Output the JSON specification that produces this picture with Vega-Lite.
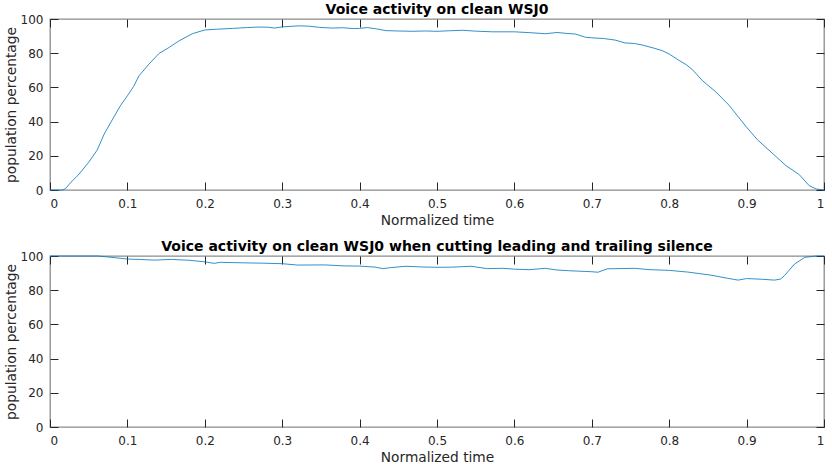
{
  "$schema": "https://vega.github.io/schema/vega-lite/v6.json",
  "padding": {"left": 3, "top": 2, "right": 4, "bottom": 0},
  "bounds": "flush",
  "spacing": 66,
  "datasets": {
    "full": [
      {"t": 0, "v": 0}, {"t": 0.016, "v": 0}, {"t": 0.02, "v": 0.8}, {"t": 0.027, "v": 4.5},
      {"t": 0.037, "v": 9}, {"t": 0.05, "v": 16.2}, {"t": 0.061, "v": 23.4}, {"t": 0.07, "v": 32.7},
      {"t": 0.081, "v": 41.5}, {"t": 0.091, "v": 49.3}, {"t": 0.1, "v": 55.1}, {"t": 0.108, "v": 60.5},
      {"t": 0.115, "v": 66.8}, {"t": 0.128, "v": 73.7}, {"t": 0.141, "v": 79.9}, {"t": 0.154, "v": 83.4},
      {"t": 0.167, "v": 87.3}, {"t": 0.184, "v": 91.4}, {"t": 0.2, "v": 93.6}, {"t": 0.215, "v": 94},
      {"t": 0.236, "v": 94.5}, {"t": 0.255, "v": 95}, {"t": 0.27, "v": 95.3}, {"t": 0.282, "v": 95.2},
      {"t": 0.29, "v": 94.7}, {"t": 0.3, "v": 95.4}, {"t": 0.322, "v": 96}, {"t": 0.335, "v": 95.8},
      {"t": 0.348, "v": 95.1}, {"t": 0.365, "v": 94.7}, {"t": 0.378, "v": 94.9}, {"t": 0.392, "v": 94.4},
      {"t": 0.4, "v": 94.5}, {"t": 0.41, "v": 95}, {"t": 0.422, "v": 94.2}, {"t": 0.434, "v": 93.2},
      {"t": 0.45, "v": 93}, {"t": 0.468, "v": 92.8}, {"t": 0.485, "v": 93}, {"t": 0.5, "v": 92.8},
      {"t": 0.515, "v": 93.1}, {"t": 0.533, "v": 93.4}, {"t": 0.55, "v": 92.9}, {"t": 0.572, "v": 92.5},
      {"t": 0.6, "v": 92.5}, {"t": 0.62, "v": 92}, {"t": 0.64, "v": 91.4}, {"t": 0.655, "v": 92.1},
      {"t": 0.667, "v": 91.6}, {"t": 0.679, "v": 91.2}, {"t": 0.692, "v": 89.3}, {"t": 0.7, "v": 89},
      {"t": 0.715, "v": 88.6}, {"t": 0.73, "v": 87.7}, {"t": 0.743, "v": 86}, {"t": 0.755, "v": 85.7},
      {"t": 0.765, "v": 84.8}, {"t": 0.78, "v": 83}, {"t": 0.791, "v": 81.5}, {"t": 0.8, "v": 79.5},
      {"t": 0.812, "v": 76}, {"t": 0.822, "v": 73.3}, {"t": 0.83, "v": 70.4}, {"t": 0.843, "v": 63.9},
      {"t": 0.86, "v": 57.5}, {"t": 0.877, "v": 49.7}, {"t": 0.888, "v": 43.5}, {"t": 0.9, "v": 36.7},
      {"t": 0.914, "v": 29.4}, {"t": 0.933, "v": 21.6}, {"t": 0.951, "v": 14.2}, {"t": 0.968, "v": 9},
      {"t": 0.981, "v": 2.5}, {"t": 0.99, "v": 0.6}, {"t": 1, "v": 0}
    ],
    "cut": [
      {"t": 0, "v": 100}, {"t": 0.062, "v": 100}, {"t": 0.08, "v": 99.2}, {"t": 0.1, "v": 98.2},
      {"t": 0.115, "v": 98}, {"t": 0.135, "v": 97.6}, {"t": 0.157, "v": 98}, {"t": 0.18, "v": 97.5},
      {"t": 0.2, "v": 96.6}, {"t": 0.212, "v": 95.7}, {"t": 0.22, "v": 96.3}, {"t": 0.25, "v": 96},
      {"t": 0.275, "v": 95.8}, {"t": 0.3, "v": 95.5}, {"t": 0.32, "v": 94.7}, {"t": 0.355, "v": 94.8},
      {"t": 0.38, "v": 94.2}, {"t": 0.4, "v": 94.1}, {"t": 0.42, "v": 93.5}, {"t": 0.43, "v": 92.6},
      {"t": 0.44, "v": 93.2}, {"t": 0.46, "v": 94}, {"t": 0.48, "v": 93.6}, {"t": 0.5, "v": 93.4},
      {"t": 0.52, "v": 93.5}, {"t": 0.544, "v": 94}, {"t": 0.565, "v": 92.6}, {"t": 0.585, "v": 92.8},
      {"t": 0.6, "v": 92.3}, {"t": 0.62, "v": 92}, {"t": 0.64, "v": 92.8}, {"t": 0.655, "v": 91.8},
      {"t": 0.67, "v": 91.4}, {"t": 0.69, "v": 91}, {"t": 0.7, "v": 90.8}, {"t": 0.708, "v": 90.5},
      {"t": 0.72, "v": 92.5}, {"t": 0.755, "v": 92.8}, {"t": 0.775, "v": 92}, {"t": 0.8, "v": 91.6},
      {"t": 0.824, "v": 90.6}, {"t": 0.854, "v": 88.8}, {"t": 0.875, "v": 87}, {"t": 0.889, "v": 85.9},
      {"t": 0.9, "v": 86.8}, {"t": 0.92, "v": 86.4}, {"t": 0.936, "v": 85.9}, {"t": 0.944, "v": 86.5},
      {"t": 0.949, "v": 88.6}, {"t": 0.962, "v": 95.3}, {"t": 0.975, "v": 99.2}, {"t": 0.99, "v": 100},
      {"t": 1, "v": 100}
    ]
  },
  "vconcat": [
    {
      "title": "Voice activity on clean WSJ0",
      "width": 774,
      "height": 171,
      "data": {"name": "full"},
      "layer": [
        {
          "mark": {"type": "line", "color": "#0072BD", "strokeWidth": 0.8},
          "encoding": {
            "x": {"field": "t", "type": "quantitative", "scale": {"domain": [0, 1], "nice": false},
                  "axis": {"orient": "bottom", "title": "Normalized time", "labelPadding": 16, "titlePadding": 4, "values": [0, 0.1, 0.2, 0.3, 0.4, 0.5, 0.6, 0.7, 0.8, 0.9, 1], "format": "~g"}},
            "y": {"field": "v", "type": "quantitative", "scale": {"domain": [0, 100], "nice": false},
                  "axis": {"orient": "left", "title": "population percentage", "labelPadding": 15, "values": [0, 20, 40, 60, 80, 100]}}
          }
        },
        {
          "mark": {"type": "line", "opacity": 0},
          "encoding": {
            "x": {"field": "t", "type": "quantitative", "scale": {"domain": [0, 1], "nice": false},
                  "axis": {"orient": "top", "title": null, "labels": false, "values": [0, 0.1, 0.2, 0.3, 0.4, 0.5, 0.6, 0.7, 0.8, 0.9, 1]}},
            "y": {"field": "v", "type": "quantitative", "scale": {"domain": [0, 100], "nice": false},
                  "axis": {"orient": "right", "title": null, "labels": false, "values": [0, 20, 40, 60, 80, 100]}}
          }
        }
      ],
      "resolve": {"axis": {"x": "independent", "y": "independent"}}
    },
    {
      "title": "Voice activity on clean WSJ0 when cutting leading and trailing silence",
      "width": 774,
      "height": 171,
      "data": {"name": "cut"},
      "layer": [
        {
          "mark": {"type": "line", "color": "#0072BD", "strokeWidth": 0.8},
          "encoding": {
            "x": {"field": "t", "type": "quantitative", "scale": {"domain": [0, 1], "nice": false},
                  "axis": {"orient": "bottom", "title": "Normalized time", "labelPadding": 16, "titlePadding": 4, "values": [0, 0.1, 0.2, 0.3, 0.4, 0.5, 0.6, 0.7, 0.8, 0.9, 1], "format": "~g"}},
            "y": {"field": "v", "type": "quantitative", "scale": {"domain": [0, 100], "nice": false},
                  "axis": {"orient": "left", "title": "population percentage", "labelPadding": 15, "values": [0, 20, 40, 60, 80, 100]}}
          }
        },
        {
          "mark": {"type": "line", "opacity": 0},
          "encoding": {
            "x": {"field": "t", "type": "quantitative", "scale": {"domain": [0, 1], "nice": false},
                  "axis": {"orient": "top", "title": null, "labels": false, "values": [0, 0.1, 0.2, 0.3, 0.4, 0.5, 0.6, 0.7, 0.8, 0.9, 1]}},
            "y": {"field": "v", "type": "quantitative", "scale": {"domain": [0, 100], "nice": false},
                  "axis": {"orient": "right", "title": null, "labels": false, "values": [0, 20, 40, 60, 80, 100]}}
          }
        }
      ],
      "resolve": {"axis": {"x": "independent", "y": "independent"}}
    }
  ],
  "config": {
    "font": "DejaVu Sans",
    "view": {"stroke": "#8c8c8c", "strokeWidth": 1.3},
    "axis": {
      "domain": false,
      "grid": false,
      "tickColor": "#262626",
      "tickSize": -8,
      "tickWidth": 1,
      "labelColor": "#262626",
      "labelFontSize": 12,
      "titleColor": "#262626",
      "titleFontSize": 13.75,
      "titleFontWeight": "normal",
      "titlePadding": 2
    },
    "title": {"fontSize": 14, "fontWeight": "bold", "color": "#000000", "offset": -4, "frame": "group", "baseline": "alphabetic"}
  }
}
